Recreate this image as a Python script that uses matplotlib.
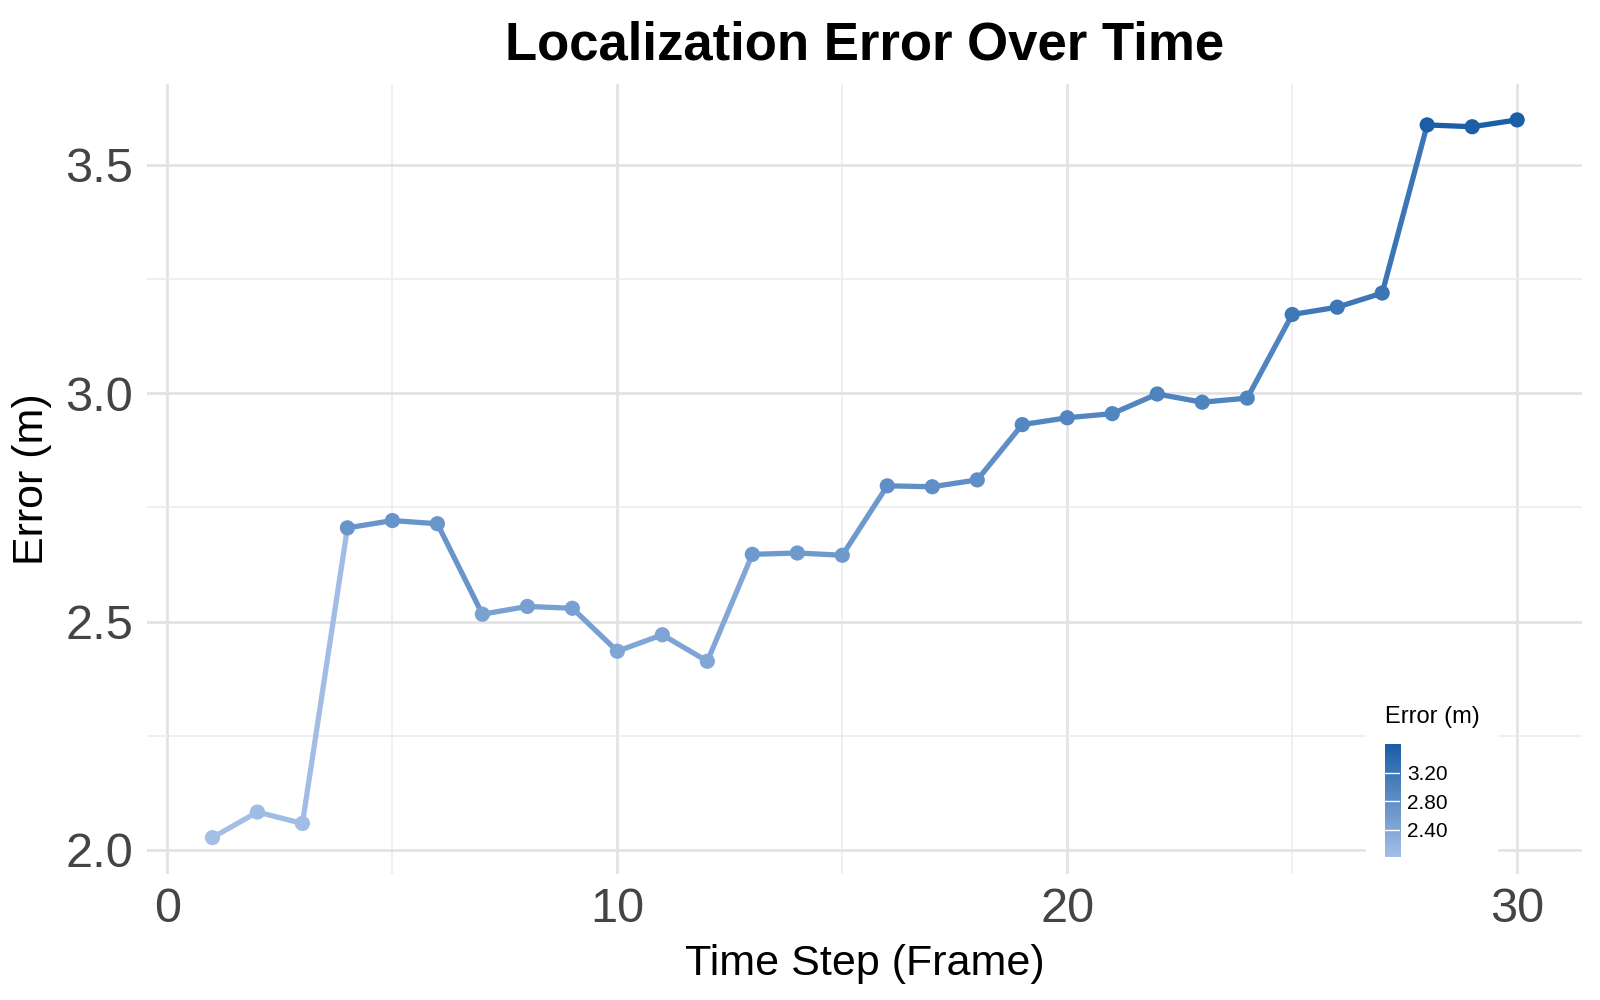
import numpy as np
import matplotlib
matplotlib.use("Agg")
import matplotlib.pyplot as plt
from matplotlib.colors import LinearSegmentedColormap, Normalize
from matplotlib.collections import LineCollection
from matplotlib.ticker import MultipleLocator

plt.rcParams['font.family'] = ['Liberation Sans', 'DejaVu Sans']

# data
frames = list(range(1, 31))
errors = [2.027, 2.083, 2.058, 2.705, 2.721, 2.714, 2.516, 2.533, 2.529, 2.435,
          2.471, 2.413, 2.647, 2.650, 2.645, 2.797, 2.795, 2.810, 2.931, 2.946,
          2.955, 2.998, 2.980, 2.989, 3.172, 3.188, 3.219, 3.587, 3.583, 3.598]
cbar_breaks = [2.40, 2.80, 3.20]
cbar_labels = ["2.40", "2.80", "3.20"]

x = np.array(frames)
y = np.array(errors)

cmap = LinearSegmentedColormap.from_list("err", ["#a4bfe6", "#1a5ea6"])
norm = Normalize(vmin=y.min(), vmax=y.max())

fig = plt.figure(figsize=(16, 10), dpi=100)
ax = fig.add_axes([0.092, 0.1265, 0.897, 0.7895])

# segments coloured by their starting point, like ggplot geom_line
pts = np.column_stack([x, y])
segs = np.stack([pts[:-1], pts[1:]], axis=1)
lc = LineCollection(segs, colors=cmap(norm(y[:-1])), linewidths=3.8,
                    capstyle='round', zorder=3)
ax.add_collection(lc)
ax.scatter(x, y, c=y, cmap=cmap, norm=norm, s=120, zorder=4, linewidths=0)

pad_x = 0.05 * (x.max() - x.min())
pad_y = 0.05 * (y.max() - y.min())
ax.set_xlim(x.min() - pad_x, x.max() + pad_x)
ax.set_ylim(y.min() - pad_y, y.max() + pad_y)

ax.xaxis.set_major_locator(MultipleLocator(10))
ax.xaxis.set_minor_locator(MultipleLocator(5))
ax.yaxis.set_major_locator(MultipleLocator(0.5))
ax.yaxis.set_minor_locator(MultipleLocator(0.25))
ax.yaxis.set_major_formatter(plt.FormatStrFormatter('%.1f'))
ax.grid(which='major', color='#e3e3e3', linewidth=2.0)
ax.grid(which='minor', color='#ececec', linewidth=1.2)
ax.set_axisbelow(True)
for s in ax.spines.values():
    s.set_visible(False)
ax.tick_params(which='both', length=0, labelsize=35, labelcolor='#444444', pad=10)

ax.set_xlabel("Time Step (Frame)", fontsize=31, labelpad=8)
ax.set_ylabel("Error (m)", fontsize=31, labelpad=10)
ax.set_title("Localization Error Over Time", fontsize=38, fontweight='bold', pad=18)

# legend: colourbar drawn inside the panel at bottom right
bg = plt.Rectangle((0.854, 0.148), 0.082, 0.118, transform=fig.transFigure,
                   facecolor='white', edgecolor='none', zorder=5)
fig.patches.append(bg)
cax = fig.add_axes([0.8656, 0.1433, 0.0094, 0.1127], zorder=6)
grad = np.linspace(y.min(), y.max(), 256).reshape(-1, 1)
cax.imshow(grad, aspect='auto', cmap=cmap, norm=norm, origin='lower',
           extent=[0, 1, y.min(), y.max()])
for b in cbar_breaks:
    cax.axhline(b, color='white', linewidth=1.0)
cax.set_xticks([])
cax.set_yticks(cbar_breaks)
cax.set_yticklabels(cbar_labels)
cax.yaxis.tick_right()
cax.tick_params(length=0, labelsize=15, pad=5)
for s in cax.spines.values():
    s.set_visible(False)
fig.text(0.8656, 0.283, "Error (m)", fontsize=17, va='center', ha='left')

fig.savefig("out.png", dpi=100, facecolor='white')
